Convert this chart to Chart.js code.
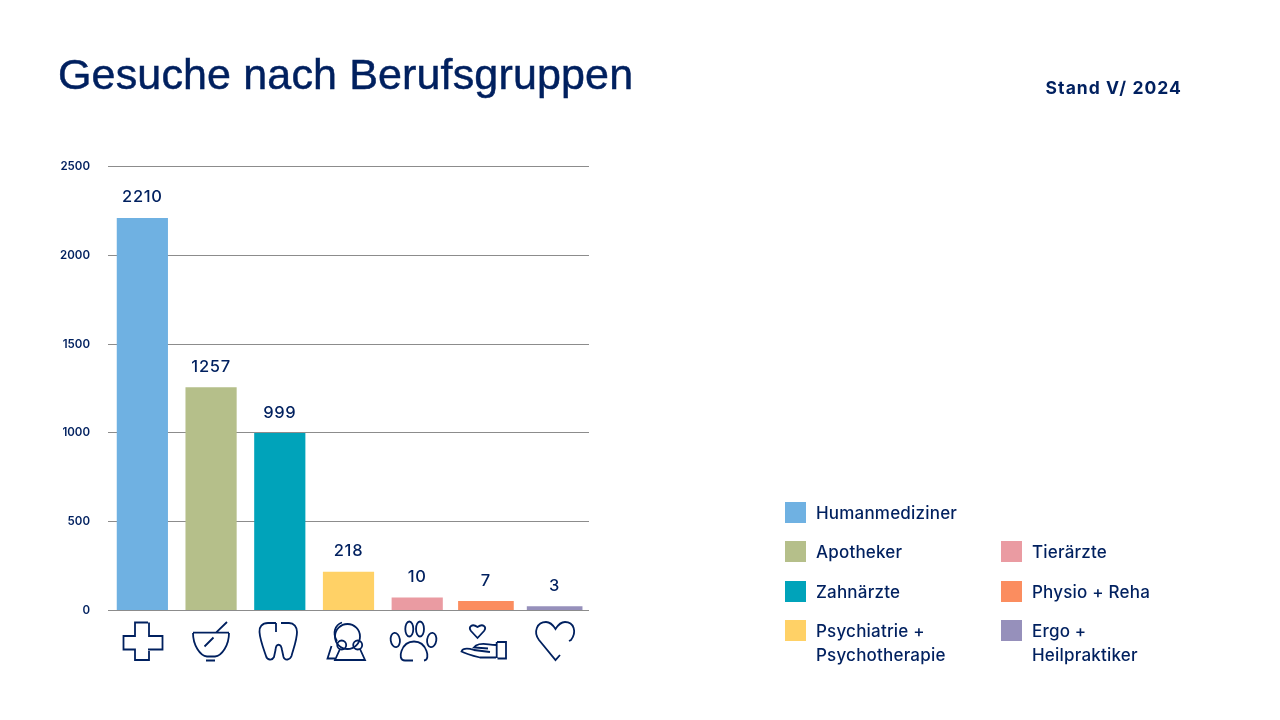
<!DOCTYPE html>
<html lang="de">
<head>
<meta charset="utf-8">
<title>Gesuche nach Berufsgruppen</title>
<script src="https://cdn.jsdelivr.net/npm/chart.js@4"></script>
<style>
    html, body { margin: 0; padding: 0; background: #fff; }
    #page { position: relative; width: 1280px; height: 720px; overflow: hidden; color: #00205f; font-family: Inter, sans-serif; }
    #chart { position: absolute; left: 0; top: 0; }
    #icons { position: absolute; left: 0; top: 0; }
    #icons * { fill: none; stroke: #00205f; stroke-width: 1.8; stroke-linecap: butt; stroke-linejoin: miter; }
    h1 { position: absolute; left: 58px; top: 47px; margin: 0; font: 400 43px/54px "Liberation Sans", sans-serif; letter-spacing: 0.15px; -webkit-text-stroke: 0.5px #00205f; white-space: nowrap; }
    #stand { position: absolute; right: 98px; top: 76px; font: 700 17.5px/24px Inter, sans-serif; letter-spacing: 1.05px; white-space: nowrap; }
    .item { position: absolute; font: 500 17px/24px Inter, sans-serif; letter-spacing: 0.2px; }
    .swatch { position: absolute; left: 0; top: 0; width: 21px; height: 21px; }
    .name { position: absolute; left: 31px; top: -1px; white-space: nowrap; }
</style>
</head>
<body>
<div id="page">
    <canvas id="chart" width="1280" height="720"></canvas>
    <svg id="icons" width="1280" height="720" viewBox="0 0 1280 720">
        <!-- Humanmediziner -->
        <path d="M148 622.5H135V636H123.5V649.5H135V660H149V651M149 622.5V636H162.5V649.5H148"/>
        <!-- Apotheker -->
        <path d="M193 632.7H229M216 632.7L227 622M193 633C193 645 200 656 207 656.5H215C222 656 229 645 229 633M206 660.5H215M204.5 646.5L213.5 637.5"/>
        <!-- Zahnaerzte -->
        <path d="M276 623H268C262 623 259 627 259.5 632C260 640 264 650 266 656C267 660 272 661 274 657L275.5 650C276 643 281 643 282 650L283.5 657C285 661 290 660 291.5 656C293 650 297 640 297 632C297 627 294 623 289 623H281M276 623V632"/>
        <!-- Psychiatrie -->
        <circle cx="347.5" cy="636.5" r="12.5"/>
        <circle cx="341.7" cy="645" r="4.5"/>
        <circle cx="357.7" cy="645" r="4.5"/>
        <path d="M342 622.5C335 625 332 633 337 641M340 649L335 660H365L360 649M331.5 646L327.5 658.5H335"/>
        <!-- Tieraerzte -->
        <ellipse cx="395.3" cy="640" rx="4.6" ry="7.2" transform="rotate(-8 395.3 640)"/>
        <ellipse cx="409.3" cy="629" rx="4" ry="7.5"/>
        <ellipse cx="420" cy="629" rx="4" ry="7.5"/>
        <ellipse cx="431.7" cy="640" rx="4.6" ry="7.2" transform="rotate(8 431.7 640)"/>
        <path d="M413 660.5H405C400 660.5 400 655 401.5 651C404 644 409 641.5 414 641.5C419 641.5 424 644 426.5 651C428 655 428 660 424 660.5"/>
        <!-- Physio + Reha -->
        <path d="M477.5 638L471 631C468 627 472 623 477.5 627C483 623 487 627 484 631Z"/>
        <path d="M497 642H506V658.5H497.5M496.7 642V658M496 645C488 645 482 642 476 645.5L474 647.5L488 648.5M496 657.5H480C474 656 466 654 461.5 651.5C463 648 469 648.5 474 650L490 652"/>
        <!-- Ergo + Heilpraktiker -->
        <path d="M560 655L555.5 660L539 640C533 632 537 622 546 622C550 622 553 625 555.5 629C558 625 561 622 565 622C574 622 577 632 571 640L569 641"/>
    </svg>
    <h1>Gesuche nach Berufsgruppen</h1>
    <div id="stand">Stand V/ 2024</div>
    <div id="legend"></div>
</div>
<script>
const categories = ['Humanmediziner', 'Apotheker', 'Zahnärzte', 'Psychiatrie +<br>Psychotherapie', 'Tierärzte', 'Physio + Reha', 'Ergo +<br>Heilpraktiker'];
// bar heights as drawn in the picture (the last three are not to scale with their labels)
const barValues = [2210, 1257, 999, 218, 73, 53, 24];
const valueLabels = ['2210', '1257', '999', '218', '10', '7', '3'];
const barColors = ['#6fb1e2', '#b5bf8a', '#00a3ba', '#ffd166', '#ea9ba2', '#fb8d5f', '#9690bb'];
const yTicks = [0, 500, 1000, 1500, 2000, 2500];

const navy = '#00205f';
const wideFrom = 5; // the last two bars are a bit wider in the picture

// legend: first four in the left column, the rest in the right one from row two
const legend = document.getElementById('legend');
categories.forEach((name, i) => {
    const left = i < 4 ? 785 : 1001;
    const row = i < 4 ? i : i - 3;
    const item = document.createElement('div');
    item.className = 'item';
    item.style.left = left + 'px';
    item.style.top = (502 + row * 39.3) + 'px';
    item.innerHTML = `<span class="swatch" style="background:${barColors[i]}"></span><span class="name">${name}</span>`;
    legend.appendChild(item);
});

const valueLabelPlugin = {
    id: 'valueLabels',
    afterDatasetsDraw(chart) {
        const ctx = chart.ctx;
        ctx.save();
        ctx.fillStyle = navy;
        ctx.font = '500 16.5px Inter, sans-serif';
        ctx.letterSpacing = '0.7px';
        ctx.textAlign = 'center';
        ctx.textBaseline = 'middle';
        chart.data.datasets.forEach((dataset, d) => {
            chart.getDatasetMeta(d).data.forEach((bar, i) => {
                if (dataset.data[i] !== null) {
                    ctx.fillText(valueLabels[i], bar.x, bar.y - 20.5);
                }
            });
        });
        ctx.restore();
    }
};

new Chart(document.getElementById('chart'), {
    type: 'bar',
    data: {
        labels: categories,
        datasets: [
            {
                data: barValues.map((v, i) => (i < wideFrom ? v : null)),
                backgroundColor: barColors,
                categoryPercentage: 1,
                barPercentage: 0.745
            },
            {
                data: barValues.map((v, i) => (i >= wideFrom ? v : null)),
                backgroundColor: barColors,
                categoryPercentage: 1,
                barPercentage: 0.81
            }
        ]
    },
    options: {
        responsive: false,
        animation: false,
        layout: { padding: { left: 0, right: 691, top: 166.5, bottom: 109.5 } },
        plugins: { legend: { display: false }, tooltip: { enabled: false } },
        scales: {
            x: { display: false, stacked: false },
            y: {
                min: 0,
                max: 2500,
                afterFit(scale) { scale.width = 108; },
                afterBuildTicks(scale) { scale.ticks = yTicks.map(value => ({ value })); },
                border: { display: false },
                grid: { color: '#8c8c8c', lineWidth: 1, drawTicks: false },
                ticks: {
                    color: navy,
                    padding: 18,
                    callback: value => String(value),
                    font: { family: 'Inter, sans-serif', size: 11.5, weight: '600' }
                }
            }
        },
        datasets: { bar: { grouped: false } }
    },
    plugins: [valueLabelPlugin]
});
</script>
</body>
</html>
